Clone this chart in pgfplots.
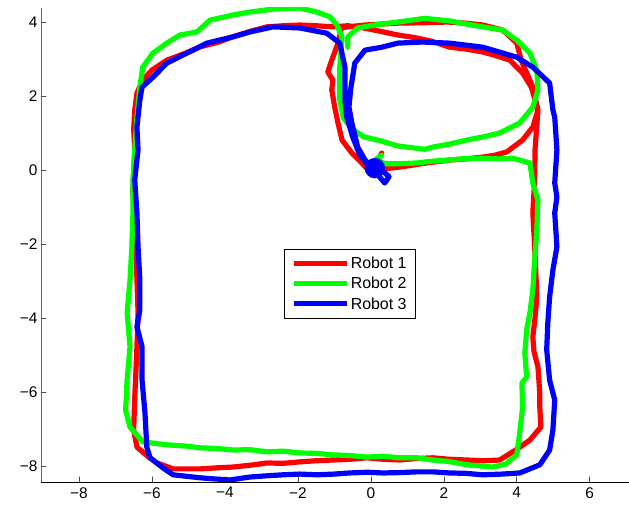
\documentclass[border=0pt]{standalone}
\usepackage{fontspec}
\setmainfont{Liberation Sans}
\usepackage{pgfplots}
\pgfplotsset{compat=1.18}
\definecolor{rgreen}{RGB}{0,255,0}
\begin{document}
\begin{tikzpicture}
\begin{axis}[
  name=ax,
  scale only axis,
  width=588bp, height=474bp,
  xmin=-9.04, xmax=7.07, ymin=-8.43, ymax=4.38,
  axis lines=left,
  axis line style={-},
  x axis line style={black},
  y axis line style={black!60},
  tick align=inside,
  major tick length=5bp,
  tick style={black!70, line width=0.6pt},
  xtick={-8,-6,-4,-2,0,2,4,6},
  xticklabels={−8,−6,−4,−2,0,2,4,6},
  ytick={-8,-6,-4,-2,0,2,4},
  yticklabels={−8,−6,−4,−2,0,2,4},
  tick label style={font=\fontsize{15.5}{18}\selectfont},
  xticklabel style={yshift=-2bp},
  line join=round, line cap=round,
  legend cell align=left,
  legend style={at={(axis cs:-0.58,-3.08)}, anchor=center, draw=black, line width=0.8pt,
    font=\fontsize{16}{19}\selectfont, inner xsep=7bp, inner ysep=6bp,
    row sep=4bp, nodes={inner sep=1.5bp}},
  legend image code/.code={\draw[#1, line width=5bp, line cap=butt] (0bp,0bp) -- (53bp,0bp);},
]
% Robot 1
\addplot[red, line width=5.2bp] coordinates {
(0.30,0.46) (0.20,0.28) (0.08,0.02) (0.45,0.04) (0.79,0.08) (1.20,0.14) (1.53,0.19)
(2.16,0.27) (2.60,0.30) (3.07,0.35) (3.40,0.40) (3.73,0.49) (4.16,0.81) (4.44,1.16) (4.58,1.62)
(4.40,2.24) (4.16,2.62) (3.81,2.97) (3.40,3.10) (3.07,3.19) (2.60,3.27) (2.16,3.32) (1.67,3.48)
(1.20,3.58) (0.74,3.65) (0.11,3.78) (-0.36,3.87) (-0.63,3.90) (-1.04,3.87) (-1.50,3.90)
(-1.95,3.92) (-2.40,3.90) (-2.85,3.87) (-3.30,3.75) (-3.78,3.60) (-4.20,3.45) (-4.68,3.33)
(-5.10,3.15) (-5.59,2.97) (-6.00,2.70) (-6.25,2.43) (-6.41,2.08) (-6.47,1.62) (-6.50,1.10)
(-6.47,0.54) (-6.52,-0.54) (-6.47,-1.62) (-6.43,-2.30) (-6.41,-2.97) (-6.38,-3.86) (-6.41,-4.78)
(-6.44,-5.50) (-6.47,-6.14) (-6.50,-7.03) (-6.41,-7.49) (-6.10,-7.75) (-5.86,-7.92) (-5.42,-8.08)
(-4.68,-8.08) (-4.20,-8.05) (-3.78,-8.03) (-3.30,-7.98) (-2.85,-7.92) (-2.40,-7.93) (-1.95,-7.89)
(-1.50,-7.86) (-1.04,-7.84) (-0.55,-7.82) (-0.11,-7.78) (0.35,-7.82) (0.79,-7.84) (1.25,-7.80)
(1.70,-7.78) (2.15,-7.82) (2.63,-7.84) (3.10,-7.86) (3.53,-7.84) (4.00,-7.55) (4.36,-7.30)
(4.66,-6.95) (4.63,-6.40) (4.63,-6.03) (4.58,-5.32) (4.47,-4.90) (4.44,-4.51) (4.50,-4.00)
(4.55,-3.43) (4.52,-2.70) (4.49,-2.08) (4.44,-1.16) (4.49,-0.27) (4.50,0.54) (4.58,1.62)
(4.44,2.24) (4.12,2.97) (4.00,3.43) (3.62,3.78) (3.07,3.92) (2.60,3.97) (2.11,4.00) (1.40,3.98)
(0.74,3.97) (-0.16,3.92) (-0.80,3.85) (-0.90,3.43) (-1.07,2.97) (-1.18,2.65) (-1.04,2.43)
(-1.07,2.16) (-0.99,1.70) (-0.90,1.27) (-0.79,0.81) (-0.52,0.46) (-0.25,0.19) (0.03,-0.10)
};
\addlegendentry{Robot 1}
% Robot 2
\addplot[rgreen, line width=5.2bp] coordinates {
(0.30,0.40) (0.15,0.30) (0.38,0.17) (0.79,0.17) (1.26,0.19) (1.70,0.24) (2.16,0.27) (2.60,0.31)
(3.07,0.32) (3.50,0.30) (3.89,0.32) (4.36,0.19) (4.44,-0.35) (4.58,-0.81) (4.55,-1.62)
(4.49,-2.43) (4.44,-3.24) (4.36,-3.86) (4.27,-4.32) (4.22,-4.95) (4.27,-5.60) (4.14,-5.76)
(4.16,-6.41) (4.08,-7.11) (4.00,-7.70) (3.70,-7.95) (3.34,-8.03) (3.00,-8.00) (2.63,-7.97)
(2.15,-7.88) (1.70,-7.84) (1.25,-7.78) (0.79,-7.78) (0.35,-7.74) (-0.11,-7.76) (-0.55,-7.72)
(-1.04,-7.70) (-1.50,-7.66) (-1.95,-7.65) (-2.40,-7.60) (-2.85,-7.62) (-3.30,-7.56) (-3.78,-7.57)
(-4.20,-7.53) (-4.68,-7.51) (-5.10,-7.46) (-5.59,-7.43) (-6.25,-7.35) (-6.60,-6.95) (-6.72,-6.50)
(-6.68,-5.68) (-6.60,-4.78) (-6.68,-3.86) (-6.60,-2.97) (-6.55,-2.08) (-6.52,-1.16) (-6.52,-0.27)
(-6.47,0.54) (-6.41,1.43) (-6.33,2.24) (-6.25,2.78) (-5.97,3.16) (-5.59,3.43) (-5.23,3.65)
(-4.77,3.73) (-4.41,4.05) (-3.78,4.19) (-3.32,4.27) (-2.68,4.35) (-1.95,4.38) (-1.48,4.27)
(-1.12,4.14) (-0.93,3.92) (-0.79,3.60) (-0.85,2.78) (-0.85,1.89) (-0.75,1.40) (-0.50,1.10)
(-0.20,0.90) (0.30,0.78) (0.74,0.65) (1.48,0.56) (1.70,0.62) (2.15,0.70) (2.63,0.81) (3.10,0.90)
(3.53,1.00) (4.08,1.27) (4.44,1.70) (4.58,2.16) (4.55,2.70) (4.36,3.16) (4.00,3.51) (3.62,3.78)
(3.07,3.87) (2.60,3.95) (2.16,4.03) (1.48,4.10) (0.74,4.00) (0.11,3.92) (-0.36,3.84) (-0.63,3.60)
(-0.63,3.32)
};
\addlegendentry{Robot 2}
% Robot 3
\addplot[blue, line width=5.2bp] coordinates {
(0.11,0.05) (0.35,-0.05) (0.50,-0.18) (0.38,-0.35) (0.25,-0.20) (0.05,0.05) (-0.16,0.27)
(-0.36,0.62) (-0.52,1.27) (-0.60,1.70) (-0.55,2.20) (-0.44,2.89) (-0.16,3.24) (0.30,3.32)
(0.74,3.43) (1.40,3.46) (2.16,3.43) (3.07,3.32) (4.00,3.05) (4.44,2.78) (4.90,2.35) (4.99,1.62)
(5.04,1.43) (5.10,0.54) (5.04,-0.35) (5.10,-0.73) (5.04,-1.16) (5.10,-2.08) (4.99,-2.70)
(4.90,-3.43) (4.85,-4.14) (4.82,-4.86) (4.90,-5.68) (5.04,-6.22) (4.99,-7.03) (4.90,-7.57)
(4.63,-7.97) (4.08,-8.19) (3.60,-8.22) (3.07,-8.24) (2.60,-8.20) (2.16,-8.19) (1.70,-8.16)
(1.26,-8.16) (0.80,-8.18) (0.33,-8.19) (-0.10,-8.17) (-0.58,-8.19) (-1.00,-8.22) (-1.48,-8.24)
(-1.95,-8.22) (-2.41,-8.24) (-2.90,-8.27) (-3.32,-8.30) (-3.86,-8.38) (-4.30,-8.35) (-4.68,-8.32)
(-5.42,-8.24) (-5.70,-8.05) (-6.05,-7.78) (-6.14,-7.49) (-6.19,-6.57) (-6.27,-5.68) (-6.27,-4.78)
(-6.41,-4.24) (-6.33,-3.78) (-6.33,-2.97) (-6.38,-2.08) (-6.41,-1.16) (-6.47,-0.27) (-6.38,0.54)
(-6.41,1.16) (-6.33,1.89) (-6.27,2.24) (-5.97,2.51) (-5.59,2.89) (-5.04,3.16) (-4.49,3.43)
(-3.78,3.60) (-3.32,3.73) (-2.68,3.87) (-1.95,3.84) (-1.21,3.70) (-0.85,3.43) (-0.71,2.78)
(-0.71,1.89) (-0.66,1.43) (-0.50,0.90) (-0.30,0.40) (0.00,0.05)
};
\addlegendentry{Robot 3}
\addplot[blue, only marks, mark=*, mark size=10pt, forget plot] coordinates {(0.11,0.05)};
\end{axis}
\path ([xshift=-41bp,yshift=-25bp]ax.south west) rectangle ([yshift=8bp]ax.north east);
\end{tikzpicture}
\end{document}
